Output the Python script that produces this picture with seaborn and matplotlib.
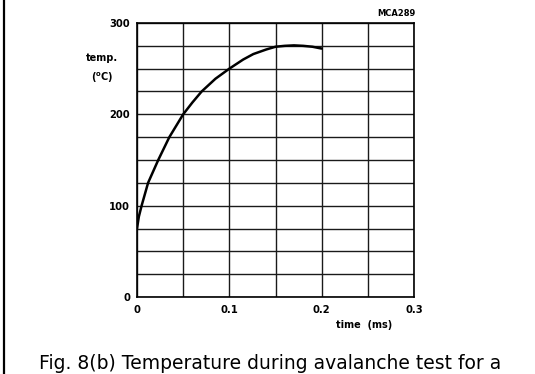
import matplotlib
matplotlib.use("Agg")
import matplotlib.pyplot as plt
import seaborn as sns
import pandas as pd
from matplotlib.ticker import MultipleLocator

# Data
time_ms = [0, 0.002, 0.005, 0.012, 0.023, 0.035, 0.05, 0.06, 0.07, 0.085,
           0.1, 0.115, 0.126, 0.14, 0.15, 0.16, 0.17, 0.18, 0.19, 0.2]
temp_c = [75, 88, 100, 125, 150, 175, 200, 213, 225, 239,
          250, 260, 266, 271, 274, 275, 275.5, 275, 274, 272]
x_ticks = [0, 0.1, 0.2, 0.3]
x_tick_labels = ["0", "0.1", "0.2", "0.3"]
y_ticks = [0, 100, 200, 300]
y_tick_labels = ["0", "100", "200", "300"]

df = pd.DataFrame({"time": time_ms, "temp": temp_c})

sns.set_theme(style="white")
plt.rcParams["font.family"] = ["DejaVu Sans"]

fig = plt.figure(figsize=(5.35, 3.74), dpi=100)
ax = fig.add_axes([137 / 535, 1 - 297 / 374, 277 / 535, 274 / 374])

sns.lineplot(data=df, x="time", y="temp", ax=ax, color="black", linewidth=1.8)

ax.set_xlim(0, 0.3)
ax.set_ylim(0, 300)
ax.set_xticks(x_ticks)
ax.set_xticklabels(x_tick_labels, fontweight="bold")
ax.set_yticks(y_ticks)
ax.set_yticklabels(y_tick_labels, fontweight="bold")
ax.xaxis.set_minor_locator(MultipleLocator(0.05))
ax.yaxis.set_minor_locator(MultipleLocator(25))
ax.grid(True, which="both", color="#1a1a1a", linewidth=1.0)
ax.set_axisbelow(True)
ax.tick_params(axis="both", which="both", length=0, labelsize=7.2,
               colors="black")
ax.tick_params(axis="x", pad=6)
ax.tick_params(axis="y", pad=5)
for s in ax.spines.values():
    s.set_color("black")
    s.set_linewidth(1.2)
ax.set_xlabel("")
ax.set_ylabel("")

fig.text(364 / 535, 1 - 325 / 374, "time  (ms)", fontsize=7, fontweight="bold",
         ha="center", va="center", color="black")
fig.text(102 / 535, 1 - 58 / 374, "temp.", fontsize=7, fontweight="bold",
         ha="center", va="center", color="black")
fig.text(102 / 535, 1 - 78 / 374, r"($^{\mathbf{o}}$C)", fontsize=7,
         fontweight="bold", ha="center", va="center", color="black")
fig.text(415 / 535, 1 - 13 / 374, "MCA289", fontsize=6, fontweight="bold",
         ha="right", va="center", color="black")
fig.text(39 / 535, 1 - 369 / 374,
         "Fig. 8(b) Temperature during avalanche test for a",
         fontsize=13.5, family=["DejaVu Sans"], ha="left",
         va="baseline", color="black")

# left border line of the page
fig.add_artist(plt.Line2D([4 / 535, 4 / 535], [0, 1], color="black",
                          linewidth=1.6, transform=fig.transFigure))

fig.savefig("out.png", dpi=100)
